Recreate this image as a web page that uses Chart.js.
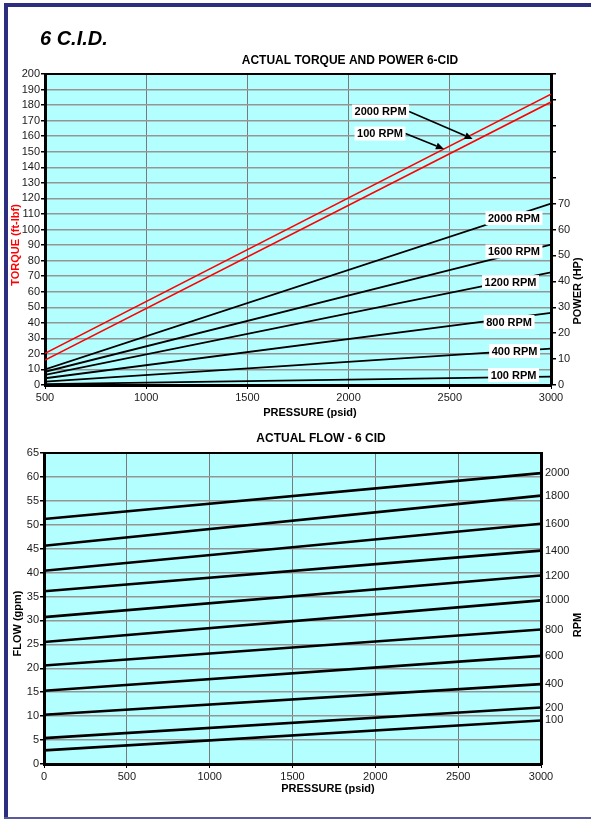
<!DOCTYPE html>
<html><head><meta charset="utf-8">
<script src="https://cdn.jsdelivr.net/npm/chart.js@4.4.0/dist/chart.umd.min.js"></script>
<style>
html,body{margin:0;padding:0;background:#fff;width:591px;height:820px;overflow:hidden;}
#topBar{position:absolute;left:4px;top:3px;width:587px;height:4px;background:#2e2e80;}
#leftBar{position:absolute;left:4px;top:3px;width:4px;height:816px;background:#2e2e80;}
#bottomBar{position:absolute;left:4px;top:817px;width:587px;height:2px;background:#5a5a9c;}
#c1{position:absolute;left:0;top:0;}
#c2{position:absolute;left:0;top:420px;}
</style></head>
<body>
<div id="topBar"></div><div id="leftBar"></div><div id="bottomBar"></div>
<canvas id="c1" width="591" height="420"></canvas>
<canvas id="c2" width="591" height="380"></canvas>
<script>
// ---------- DATA ----------
// Chart 1: actual torque and power
const torquePressure = [500, 3000];           // psid
const torque100rpm   = [20.4, 187];           // ft-lbf
const torque2000rpm  = [16.0, 182];           // ft-lbf
const powerPressure  = [500, 3000];           // psid
const power2000rpm   = [6.0, 70.0];           // HP
const power1600rpm   = [5.1, 54.2];
const power1200rpm   = [3.9, 43.5];
const power800rpm    = [2.6, 27.8];
const power400rpm    = [1.3, 14.0];
const power100rpm    = [0.35, 3.2];
const pressureTicks1 = [500, 1000, 1500, 2000, 2500, 3000];
const torqueTicks    = [0,10,20,30,40,50,60,70,80,90,100,110,120,130,140,150,160,170,180,190,200];
const powerTicks     = [0,10,20,30,40,50,60,70,80,90,100,110,120];
const powerTickLabels= ['0','10','20','30','40','50','60','70','','','','',''];

// Chart 2: actual flow
const flowPressure = [0, 3000];               // psid
const flow2000rpm  = [51.2, 60.8];            // gpm
const flow1800rpm  = [45.6, 56.1];
const flow1600rpm  = [40.4, 50.2];
const flow1400rpm  = [36.1, 44.6];
const flow1200rpm  = [30.7, 39.4];
const flow1000rpm  = [25.5, 34.2];
const flow800rpm   = [20.6, 28.1];
const flow600rpm   = [15.3, 22.6];
const flow400rpm   = [10.3, 16.7];
const flow200rpm   = [5.4, 11.8];
const flow100rpm   = [2.85, 9.1];
const pressureTicks2 = [0, 500, 1000, 1500, 2000, 2500, 3000];
const flowTicks      = [0,5,10,15,20,25,30,35,40,45,50,55,60,65];
const rpmLabels      = ['2000','1800','1600','1400','1200','1000','800','600','400','200','100'];

// ---------- helpers ----------
const FONT = '"Liberation Sans", Arial, Helvetica, sans-serif';
const pts = (xs, ys) => xs.map((x, i) => ({x: x, y: ys[i]}));
const CYAN = '#b3ffff';
const plain = v => String(v);

const decor = {
  id: 'decor',
  beforeDraw(chart, args, opts) {
    const a = chart.chartArea, ctx = chart.ctx;
    ctx.save();
    ctx.fillStyle = CYAN;
    ctx.fillRect(a.left, a.top, a.right - a.left, a.bottom - a.top);
    ctx.restore();
  },
  afterDatasetsDraw(chart, args, opts) {
    const a = chart.chartArea, ctx = chart.ctx;
    ctx.save();
    ctx.strokeStyle = '#000';
    ctx.lineWidth = 2;
    ctx.beginPath(); ctx.moveTo(a.left - 1, a.top); ctx.lineTo(a.right + 1, a.top); ctx.stroke();
    (opts.labels || []).forEach(l => {
      const xs = chart.scales.x, ys = chart.scales[l.axis];
      const px = xs.getPixelForValue(l.x), py = ys.getPixelForValue(l.y);
      ctx.font = 'bold 11px ' + FONT;
      const tw = ctx.measureText(l.text).width;
      const w = tw + 5, h = 14;
      if (l.tipX !== undefined) {
        const tx = xs.getPixelForValue(l.tipX), ty = ys.getPixelForValue(l.tipY);
        const sx = px + w / 2, sy = py;
        const ang = Math.atan2(ty - sy, tx - sx);
        const hl = 8, hw = 3.5;
        const bx = tx - hl * Math.cos(ang), by = ty - hl * Math.sin(ang);
        ctx.strokeStyle = '#000'; ctx.lineWidth = 1.6;
        ctx.beginPath(); ctx.moveTo(sx, sy); ctx.lineTo(bx, by); ctx.stroke();
        ctx.fillStyle = '#000';
        ctx.beginPath();
        ctx.moveTo(tx, ty);
        ctx.lineTo(bx + hw * Math.sin(ang), by - hw * Math.cos(ang));
        ctx.lineTo(bx - hw * Math.sin(ang), by + hw * Math.cos(ang));
        ctx.closePath(); ctx.fill();
      }
      ctx.fillStyle = '#fff';
      ctx.fillRect(px - w / 2, py - h / 2, w, h);
      ctx.fillStyle = '#000';
      ctx.textAlign = 'center'; ctx.textBaseline = 'middle';
      ctx.fillText(l.text, px, py + 0.5);
    });
    ctx.restore();
  },
  afterDraw(chart, args, opts) {
    const ctx = chart.ctx;
    (opts.texts || []).forEach(t => {
      ctx.save();
      ctx.font = t.font;
      ctx.fillStyle = t.color || '#000';
      ctx.textAlign = t.align || 'center';
      ctx.textBaseline = t.baseline || 'middle';
      ctx.translate(t.x, t.y);
      if (t.rot) ctx.rotate(t.rot);
      ctx.fillText(t.text, 0, 0);
      ctx.restore();
    });
  }
};

const tickFont = {family: FONT, size: 11};
const TICKCOL = '#1a1a1a';

// ---------- Chart 1 ----------
const blackLine = (label, ys) => ({label: label, data: pts(powerPressure, ys), borderColor: '#000', borderWidth: 1.8, pointRadius: 0, tension: 0, yAxisID: 'y1'});
new Chart(document.getElementById('c1'), {
  type: 'line',
  data: {datasets: [
    {label: 'Torque 100 RPM', data: pts(torquePressure, torque100rpm), borderColor: '#ff0000', borderWidth: 1.6, pointRadius: 0, tension: 0, yAxisID: 'y'},
    {label: 'Torque 2000 RPM', data: pts(torquePressure, torque2000rpm), borderColor: '#ff0000', borderWidth: 1.6, pointRadius: 0, tension: 0, yAxisID: 'y'},
    blackLine('Power 2000 RPM', power2000rpm),
    blackLine('Power 1600 RPM', power1600rpm),
    blackLine('Power 1200 RPM', power1200rpm),
    blackLine('Power 800 RPM', power800rpm),
    blackLine('Power 400 RPM', power400rpm),
    blackLine('Power 100 RPM', power100rpm)
  ]},
  options: {
    responsive: false, animation: false,
    layout: {padding: {top: 74, left: 0, right: 0, bottom: 0}},
    plugins: {
      legend: {display: false}, tooltip: {enabled: false},
      decor: {
        labels: [
          {text: '2000 RPM', axis: 'y', x: 2158, y: 175.9, tipX: 2613, tipY: 158.2},
          {text: '100 RPM', axis: 'y', x: 2155, y: 161.7, tipX: 2471, tipY: 151.8},
          {text: '2000 RPM', axis: 'y1', x: 2817, y: 64.4},
          {text: '1600 RPM', axis: 'y1', x: 2817, y: 51.5},
          {text: '1200 RPM', axis: 'y1', x: 2800, y: 39.7},
          {text: '800 RPM', axis: 'y1', x: 2793, y: 24.3},
          {text: '400 RPM', axis: 'y1', x: 2820, y: 13.1},
          {text: '100 RPM', axis: 'y1', x: 2815, y: 3.85}
        ],
        texts: [
          {text: '6 C.I.D.', x: 40, y: 45, font: 'italic bold 20px ' + FONT, align: 'left', baseline: 'alphabetic'},
          {text: 'ACTUAL TORQUE AND POWER 6-CID', x: 350, y: 61, font: 'bold 12px ' + FONT},
          {text: 'PRESSURE (psid)', x: 310, y: 413, font: 'bold 11px ' + FONT},
          {text: 'TORQUE (ft-lbf)', x: 16, y: 245, font: 'bold 11px ' + FONT, color: '#ff0000', rot: -Math.PI / 2},
          {text: 'POWER (HP)', x: 578, y: 291, font: 'bold 11px ' + FONT, rot: -Math.PI / 2}
        ]
      }
    },
    scales: {
      x: {
        type: 'linear', min: 500, max: 3000,
        afterBuildTicks: s => { s.ticks = pressureTicks1.map(v => ({value: v})); },
        ticks: {font: tickFont, color: TICKCOL, padding: 2, maxRotation: 0, autoSkip: false, callback: plain},
        grid: {color: '#7a7a7a', lineWidth: 1, tickLength: 4, tickColor: '#000'},
        border: {color: '#000', width: 3},
        afterFit: s => { s.height = 35; }
      },
      y: {
        position: 'left', min: 0, max: 200,
        afterBuildTicks: s => { s.ticks = torqueTicks.map(v => ({value: v})); },
        ticks: {font: tickFont, color: TICKCOL, padding: 1, autoSkip: false, callback: plain},
        grid: {color: '#959595', lineWidth: 1.5, tickLength: 4, tickColor: '#000'},
        border: {color: '#000', width: 3},
        afterFit: s => { s.width = 45; }
      },
      y1: {
        position: 'right', min: 0, max: 120,
        afterBuildTicks: s => { s.ticks = powerTicks.map(v => ({value: v})); },
        ticks: {font: tickFont, color: TICKCOL, padding: 2, autoSkip: false,
                callback: (v) => powerTickLabels[powerTicks.indexOf(v)]},
        grid: {drawOnChartArea: false, tickLength: 5, tickColor: '#000', lineWidth: 1.5},
        border: {color: '#000', width: 3},
        afterFit: s => { s.width = 40; }
      }
    }
  },
  plugins: [decor]
});

// ---------- Chart 2 ----------
const flowSeries = [flow2000rpm, flow1800rpm, flow1600rpm, flow1400rpm, flow1200rpm, flow1000rpm,
                    flow800rpm, flow600rpm, flow400rpm, flow200rpm, flow100rpm];
const flowEnds = flowSeries.map(s => s[s.length - 1]);
new Chart(document.getElementById('c2'), {
  type: 'line',
  data: {datasets: flowSeries.map((s, i) => ({
    label: rpmLabels[i] + ' RPM', data: pts(flowPressure, s), borderColor: '#000', borderWidth: 2.6,
    pointRadius: 0, tension: 0, yAxisID: 'y'
  }))},
  options: {
    responsive: false, animation: false,
    layout: {padding: {top: 33, left: 0, right: 0, bottom: 0}},
    plugins: {
      legend: {display: false}, tooltip: {enabled: false},
      decor: {
        texts: [
          {text: 'ACTUAL FLOW - 6 CID', x: 321, y: 19, font: 'bold 12px ' + FONT},
          {text: 'PRESSURE (psid)', x: 328, y: 369, font: 'bold 11px ' + FONT},
          {text: 'FLOW (gpm)', x: 17.5, y: 203.5, font: 'bold 11px ' + FONT, rot: -Math.PI / 2},
          {text: 'RPM', x: 577.5, y: 205, font: 'bold 11px ' + FONT, rot: -Math.PI / 2}
        ]
      }
    },
    scales: {
      x: {
        type: 'linear', min: 0, max: 3000,
        afterBuildTicks: s => { s.ticks = pressureTicks2.map(v => ({value: v})); },
        ticks: {font: tickFont, color: TICKCOL, padding: 2, maxRotation: 0, autoSkip: false, callback: plain},
        grid: {color: '#7a7a7a', lineWidth: 1, tickLength: 4, tickColor: '#000'},
        border: {color: '#000', width: 3},
        afterFit: s => { s.height = 36; }
      },
      y: {
        position: 'left', min: 0, max: 65,
        afterBuildTicks: s => { s.ticks = flowTicks.map(v => ({value: v})); },
        ticks: {font: tickFont, color: TICKCOL, padding: 1, autoSkip: false, callback: plain},
        grid: {color: '#959595', lineWidth: 1.5, tickLength: 4, tickColor: '#000'},
        border: {color: '#000', width: 3},
        afterFit: s => { s.width = 44; }
      },
      y1: {
        position: 'right', min: 0, max: 65,
        afterBuildTicks: s => { s.ticks = flowEnds.map(v => ({value: v})); },
        ticks: {font: tickFont, color: TICKCOL, padding: 4, autoSkip: false,
                callback: (v) => rpmLabels[flowEnds.indexOf(v)]},
        grid: {display: false, drawOnChartArea: false, drawTicks: false},
        border: {display: true, color: '#000', width: 3},
        afterFit: s => { s.width = 50; }
      }
    }
  },
  plugins: [decor]
});
</script>
</body></html>
